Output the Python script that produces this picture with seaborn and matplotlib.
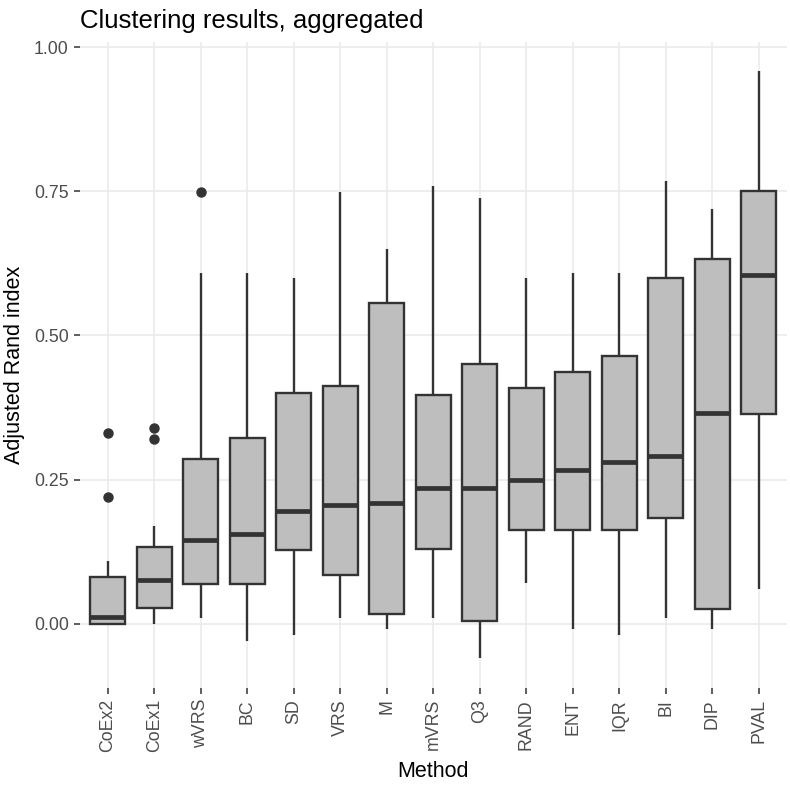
import numpy as np
import pandas as pd
import matplotlib
matplotlib.use("Agg")
import matplotlib.pyplot as plt
import seaborn as sns

# box statistics
methods = ["CoEx2", "CoEx1", "wVRS", "BC", "SD", "VRS", "M", "mVRS",
           "Q3", "RAND", "ENT", "IQR", "BI", "DIP", "PVAL"]
whisker_lo = [0.000, 0.000, 0.009, -0.030, -0.020, 0.009, -0.009, 0.010,
              -0.059, 0.071, -0.009, -0.020, 0.010, -0.009, 0.060]
q1 = [0.000, 0.027, 0.068, 0.068, 0.127, 0.085, 0.017, 0.129,
      0.005, 0.162, 0.162, 0.162, 0.183, 0.025, 0.363]
median = [0.012, 0.075, 0.145, 0.155, 0.196, 0.205, 0.210, 0.235,
          0.235, 0.250, 0.266, 0.280, 0.290, 0.365, 0.605]
q3 = [0.080, 0.133, 0.285, 0.322, 0.400, 0.413, 0.557, 0.397,
      0.450, 0.408, 0.436, 0.465, 0.600, 0.633, 0.750]
whisker_hi = [0.109, 0.170, 0.609, 0.609, 0.600, 0.749, 0.650, 0.759,
              0.739, 0.600, 0.609, 0.609, 0.769, 0.719, 0.959]
outliers = [[0.219, 0.330], [0.320, 0.339], [0.749], [], [], [], [], [],
            [], [], [], [], [], [], []]

# rebuild a sample per method that gives exactly these quartiles (n = 4k+1)
rows = []
for i, m in enumerate(methods):
    k = 1 + len(outliers[i])
    vals = ([whisker_lo[i]] + [q1[i]] * k + [median[i]] * k + [q3[i]] * k
            + [whisker_hi[i]] + outliers[i])
    for v in vals:
        rows.append((m, v))
df = pd.DataFrame(rows, columns=["Method", "ARI"])

sns.set_style("white")
plt.rcParams["font.family"] = ["Liberation Sans", "DejaVu Sans"]

fig = plt.figure(figsize=(7.9, 7.87), dpi=100)
ax = fig.add_axes([0.101, 0.126, 0.895, 0.821])

sns.boxplot(data=df, x="Method", y="ARI", order=methods, ax=ax,
            color="#BEBEBE", saturation=1, linecolor="#333333",
            linewidth=1.7, width=0.75, fliersize=6.5, showcaps=False,
            medianprops=dict(linewidth=3.4, color="#333333"),
            flierprops=dict(marker="o", markerfacecolor="#333333",
                            markeredgecolor="#333333"))

ax.set_xlim(-0.6, len(methods) - 0.4)
ax.set_ylim(-0.1116, 1.0099)
ax.set_yticks([0, 0.25, 0.5, 0.75, 1.0])
ax.set_yticklabels(["0.00", "0.25", "0.50", "0.75", "1.00"])
ax.grid(True, color="#EBEBEB", linewidth=1.2)
ax.set_axisbelow(True)
for s in ax.spines.values():
    s.set_visible(False)

ax.tick_params(axis="both", bottom=True, left=True, length=4, width=1.1,
               color="#333333", labelcolor="#4D4D4D", labelsize=12.8, pad=4)
plt.setp(ax.get_xticklabels(), rotation=90, ha="center", va="top")

ax.set_xlabel("Method", fontsize=15.5, color="black", labelpad=6)
ax.set_ylabel("Adjusted Rand index", fontsize=15.5, color="black", labelpad=6)
ax.set_title("Clustering results, aggregated", loc="left", fontsize=18.5,
             color="black", pad=10)

fig.savefig("out.png", dpi=100)
